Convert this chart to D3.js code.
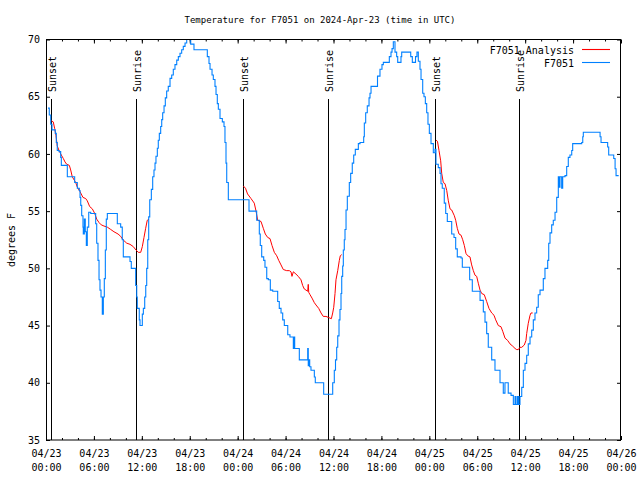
<!DOCTYPE html>
<html><head><meta charset="utf-8">
<script src="https://cdn.jsdelivr.net/npm/d3@7"></script>
<style>
body{margin:0;background:#fff;}
text{font-family:"DejaVu Sans Mono",monospace;font-size:10px;fill:#000;}
</style></head>
<body><svg id="c" width="640" height="480"></svg>
<script>
// ---- data ----
const titleText = "Temperature for F7051 on 2024-Apr-23 (time in UTC)";
const yLabel = "degrees F";
const startTime = "2024-04-23T00:00:00Z";
const endTime = "2024-04-26T00:00:00Z";
const yTicks = [35,40,45,50,55,60,65,70];
const seriesNames = ["F7051 Analysis","F7051"];

// hours since start, and degrees F
const obsHours = [0.25,0.41,0.59,0.75,1.16,1.29,1.41,1.63,1.84,1.92,2.67,3.59,3.92,4.17,4.26,4.35,4.47,4.63,4.67,4.80,4.92,5.05,5.17,5.35,5.60,6.22,6.35,6.51,6.64,6.76,6.89,7.05,7.18,7.30,7.43,7.55,7.68,8.93,9.35,9.55,9.68,10.52,10.68,11.23,11.36,11.43,11.68,11.77,12.06,12.19,12.36,12.49,12.61,12.74,12.86,12.99,13.19,13.36,13.52,13.65,13.77,13.94,14.06,14.19,14.36,14.49,14.61,14.78,14.94,15.11,15.31,15.53,15.74,15.94,16.15,16.37,16.57,16.78,16.99,17.19,17.41,17.62,18.12,18.53,20.20,20.41,20.54,20.79,20.95,21.16,21.29,21.45,21.58,21.79,22.08,22.29,22.41,22.54,22.63,22.83,25.42,26.38,26.71,26.83,27.01,27.26,27.42,27.64,27.84,28.09,28.39,29.01,29.21,29.43,29.64,29.84,30.27,30.55,30.97,31.05,31.14,31.72,32.77,32.84,32.93,33.02,33.18,33.60,33.72,34.77,35.90,36.10,36.25,36.40,36.53,36.69,36.81,36.94,37.03,37.15,37.23,37.35,37.44,37.57,37.73,37.98,38.15,38.35,38.53,38.73,39.11,39.32,39.78,39.86,40.03,40.23,40.45,40.57,40.70,41.51,41.82,42.07,42.24,42.99,43.20,43.33,43.49,43.70,43.91,44.04,44.45,44.54,45.67,45.87,46.27,46.45,46.62,46.83,46.96,47.17,47.33,47.50,47.67,47.83,48.00,48.21,48.50,48.71,48.83,49.12,49.34,49.46,49.62,49.87,50.05,50.25,50.80,51.09,51.30,51.50,51.97,52.13,53.05,53.38,54.35,54.76,54.97,55.18,55.38,55.81,56.22,56.85,57.26,57.47,57.88,58.23,58.52,58.73,58.85,59.04,59.17,59.35,59.57,59.77,59.98,60.19,60.39,60.61,60.82,61.02,61.23,61.44,61.64,61.86,62.27,62.48,62.82,62.95,63.11,63.32,63.52,63.74,63.95,64.15,64.27,64.36,64.57,64.70,64.99,65.20,65.40,65.61,65.83,65.95,67.08,67.21,67.28,69.38,69.50,70.33,70.46,71.09,71.26,71.38,71.71];
const obsTemps = [64.0,63.4,62.6,62.1,61.8,61.0,60.3,60.2,59.7,59.0,58.0,57.5,57.0,56.8,56.2,55.5,54.6,53.6,53.0,54.3,53.2,52.0,53.6,54.9,54.8,53.9,52.2,50.7,49.0,48.1,47.5,46.0,47.5,49.1,51.6,54.3,54.8,53.9,53.6,52.5,51.0,50.6,50.0,48.5,47.5,46.5,45.5,45.0,46.0,46.5,47.5,48.5,50.0,52.5,54.5,56.0,56.9,58.0,58.6,59.2,59.8,60.5,61.2,61.8,62.4,63.0,63.6,64.2,64.9,65.5,65.9,66.6,66.9,67.4,67.8,68.2,68.5,68.8,69.1,69.4,69.7,70.2,69.6,69.1,68.5,67.9,67.4,66.9,66.5,65.9,65.2,64.4,63.9,63.1,62.8,62.4,61.0,59.2,57.5,56.0,55.0,54.2,53.0,52.0,51.0,50.7,50.1,49.1,49.0,48.1,48.0,47.1,46.5,46.1,45.5,45.0,44.2,44.0,43.0,44.0,43.0,42.0,43.0,41.5,42.0,41.4,41.1,40.5,40.0,39.0,40.0,41.1,42.0,43.1,44.1,45.5,46.4,47.8,49.3,50.2,51.6,52.5,53.4,55.1,56.3,57.5,58.3,59.2,59.9,60.4,60.9,61.0,61.5,62.7,63.6,64.2,64.9,65.3,65.9,66.8,67.4,67.8,68.0,68.5,68.9,69.2,69.8,68.9,68.5,68.0,68.5,68.9,68.5,68.0,68.5,68.9,68.1,67.4,66.5,65.3,65.0,64.4,63.6,62.6,61.8,60.9,60.1,60.4,59.1,58.8,58.3,57.4,57.0,55.7,54.8,54.1,53.0,52.7,51.7,51.0,50.9,50.1,49.0,48.0,47.2,46.2,45.3,44.3,43.1,42.0,41.1,40.0,39.1,40.0,39.1,38.9,38.1,38.8,38.1,38.8,38.1,38.8,39.6,41.1,41.7,42.4,43.4,44.0,44.6,45.5,46.1,46.6,47.7,48.1,49.1,50.0,50.7,52.2,53.1,53.8,54.2,54.9,56.2,58.0,57.1,58.0,57.0,58.0,58.1,58.9,59.7,59.9,60.3,60.9,61.0,61.5,61.9,61.5,61.0,60.6,59.9,59.6,58.7,58.1,58.1];

// analysis: null separates nightly runs
const anaHours = [0.66,0.91,1.09,1.25,1.41,1.63,1.92,2.17,2.38,2.59,2.92,3.09,3.29,3.72,3.92,4.26,4.63,4.97,5.17,5.47,5.80,6.10,6.35,6.64,6.92,7.26,7.68,8.10,8.51,9.02,9.35,9.64,10.11,10.52,10.93,11.27,11.56,11.86,12.06,12.27,12.48,12.68,12.90,
 null,
 24.71,24.98,25.24,25.67,26.08,26.30,26.51,26.92,27.21,27.46,27.76,28.05,28.30,28.59,28.89,29.14,29.43,29.71,30.14,30.47,30.68,30.80,30.97,31.30,31.59,31.93,32.14,32.34,32.77,32.84,32.90,33.06,33.31,33.60,33.81,34.15,34.44,34.72,35.06,35.40,35.73,35.90,36.03,36.19,36.31,36.53,36.73,36.85,37.03,
 null,
 48.84,49.02,49.21,49.42,49.55,49.75,49.96,50.18,50.38,50.59,50.80,51.13,51.30,51.50,51.72,51.97,52.18,52.38,52.59,52.80,53.09,53.30,53.51,53.72,53.93,54.13,54.35,54.56,54.88,55.18,55.47,55.81,56.10,56.31,56.64,56.97,57.19,57.48,57.81,58.10,58.44,58.73,58.94,59.14,59.35,59.57,59.89,60.10,60.19,60.39,60.61,60.73,60.94];
const anaTemps = [62.9,62.8,62.2,61.6,60.7,60.3,59.9,59.6,59.3,59.1,59.0,58.6,58.0,57.5,57.1,56.7,56.2,56.1,55.9,55.4,55.2,54.8,54.3,54.0,53.8,53.7,53.6,53.4,53.2,53.0,52.8,52.5,52.2,52.1,51.9,51.6,51.4,51.4,51.9,52.7,53.5,54.2,54.3,
 null,
 57.2,57.0,56.5,56.1,55.7,55.0,54.2,54.1,53.5,53.0,52.7,52.6,52.0,51.4,51.1,50.7,50.3,49.9,49.8,49.8,49.7,49.3,49.7,49.5,49.3,49.0,48.5,48.2,48.0,48.6,47.9,47.7,47.4,47.0,46.8,46.5,46.1,45.8,45.8,45.7,45.6,46.1,46.6,47.8,49.0,49.8,50.7,51.1,51.2,
 null,
 61.2,61.1,60.3,59.4,58.3,57.5,57.4,56.8,55.9,55.2,55.1,54.6,54.2,53.5,53.0,52.9,52.5,52.0,51.3,51.1,51.0,50.3,49.8,49.4,49.3,48.7,48.1,47.8,47.7,47.1,46.5,46.1,45.9,45.5,45.0,44.9,44.5,43.9,43.7,43.4,43.2,43.0,42.9,42.9,43.1,43.1,43.3,43.7,44.3,45.2,45.9,46.1,46.1];

const sunHours = [0.66,11.30,24.70,35.33,48.72,59.24];
const sunLabels = ["Sunset","Sunrise","Sunset","Sunrise","Sunset","Sunrise"];

// ---- chart ----
const svg = d3.select("#c");
const L=46,R=621,T=39.5,B=440;
const t0 = new Date(startTime), t1 = new Date(endTime);
const hr = h => new Date(t0.getTime()+h*3600000);
const x = d3.scaleUtc().domain([t0,t1]).range([L,R]);
const y = d3.scaleLinear().domain([35,70]).range([B,T]);

svg.append("defs").append("clipPath").attr("id","clip")
  .append("rect").attr("x",L).attr("y",T).attr("width",R-L).attr("height",B-T);

// minor ticks
const minor = d3.utcHour.every(2).range(t0, t1);
svg.append("g").attr("transform",`translate(0,${B})`)
  .call(d3.axisBottom(x).tickValues(minor).tickSize(-2).tickFormat(""))
  .call(g=>g.select(".domain").remove());
svg.append("g").attr("transform",`translate(0,${T})`)
  .call(d3.axisTop(x).tickValues(minor).tickSize(-2).tickFormat(""))
  .call(g=>g.select(".domain").remove());
// major ticks
const major = d3.utcHour.every(6).range(t0, new Date(t1.getTime()+1));
const fd = d3.utcFormat("%m/%d"), ft = d3.utcFormat("%H:%M");
const gx = svg.append("g").attr("transform",`translate(0,${B})`)
  .call(d3.axisBottom(x).tickValues(major).tickSize(-4).tickPadding(13).tickFormat(""))
  .call(g=>g.select(".domain").remove());
gx.selectAll(".tick text").each(function(d){
  const t=d3.select(this);
  t.attr("y",17).attr("dy",null);
  t.append("tspan").attr("x",0).text(fd(d));
  t.append("tspan").attr("x",0).attr("dy",14).text(ft(d));
});
svg.append("g").attr("transform",`translate(0,${T})`)
  .call(d3.axisTop(x).tickValues(major).tickSize(-4).tickFormat(""))
  .call(g=>g.select(".domain").remove());
svg.append("g").attr("transform",`translate(${L},0)`)
  .call(d3.axisLeft(y).tickValues(yTicks).tickSize(-4).tickPadding(6).tickFormat(d3.format("d")))
  .call(g=>g.select(".domain").remove());
svg.append("g").attr("transform",`translate(${R},0)`)
  .call(d3.axisRight(y).tickValues(yTicks).tickSize(-4).tickFormat(""))
  .call(g=>g.select(".domain").remove());
svg.selectAll(".tick line").attr("stroke","#000");
svg.selectAll(".tick text").attr("font-family","DejaVu Sans Mono").attr("font-size",10).attr("fill","#000");

// sun lines
const sg = svg.append("g");
sunHours.forEach((h,i)=>{
  const xx = Math.round(x(hr(h)))+0.5;
  sg.append("line").attr("x1",xx).attr("x2",xx).attr("y1",99).attr("y2",B).attr("stroke","#000").attr("stroke-width",1);
  sg.append("text").attr("transform",`translate(${xx+4},92) rotate(-90)`).text(sunLabels[i]);
});

// series
const obs = obsHours.map((h,i)=>({t:hr(h),v:obsTemps[i]}));
const ana = anaHours.map((h,i)=>({t:h==null?null:hr(h),v:anaTemps[i]}));
const plot = svg.append("g").attr("clip-path","url(#clip)");
plot.append("path").datum(ana).attr("fill","none").attr("stroke","#ff0000").attr("stroke-width",1)
  .attr("d",d3.line().defined(d=>d.v!=null).x(d=>x(d.t)).y(d=>y(d.v)));
plot.append("path").datum(obs).attr("fill","none").attr("stroke","#0080ff").attr("stroke-width",1.1)
  .attr("d",d3.line().curve(d3.curveStepAfter).x(d=>x(d.t)).y(d=>y(d.v)));

// frame
svg.append("rect").attr("x",L+0.5).attr("y",T).attr("width",R-L-1).attr("height",B-T)
  .attr("fill","none").attr("stroke","#000").attr("stroke-width",1);

// title and labels
svg.append("text").attr("x",320).attr("y",23).attr("text-anchor","middle").style("font-size","9px").text(titleText);
svg.append("text").attr("transform","translate(15,240) rotate(-90)").attr("text-anchor","middle").text(yLabel);

// legend
const colors=["#ff0000","#0080ff"];
seriesNames.forEach((n,i)=>{
  const yy = 49.5+i*13;
  svg.append("text").attr("x",574).attr("y",yy+4).attr("text-anchor","end").text(n);
  svg.append("line").attr("x1",582).attr("x2",610).attr("y1",yy).attr("y2",yy).attr("stroke",colors[i]).attr("stroke-width",1.1);
});
</script></body></html>
